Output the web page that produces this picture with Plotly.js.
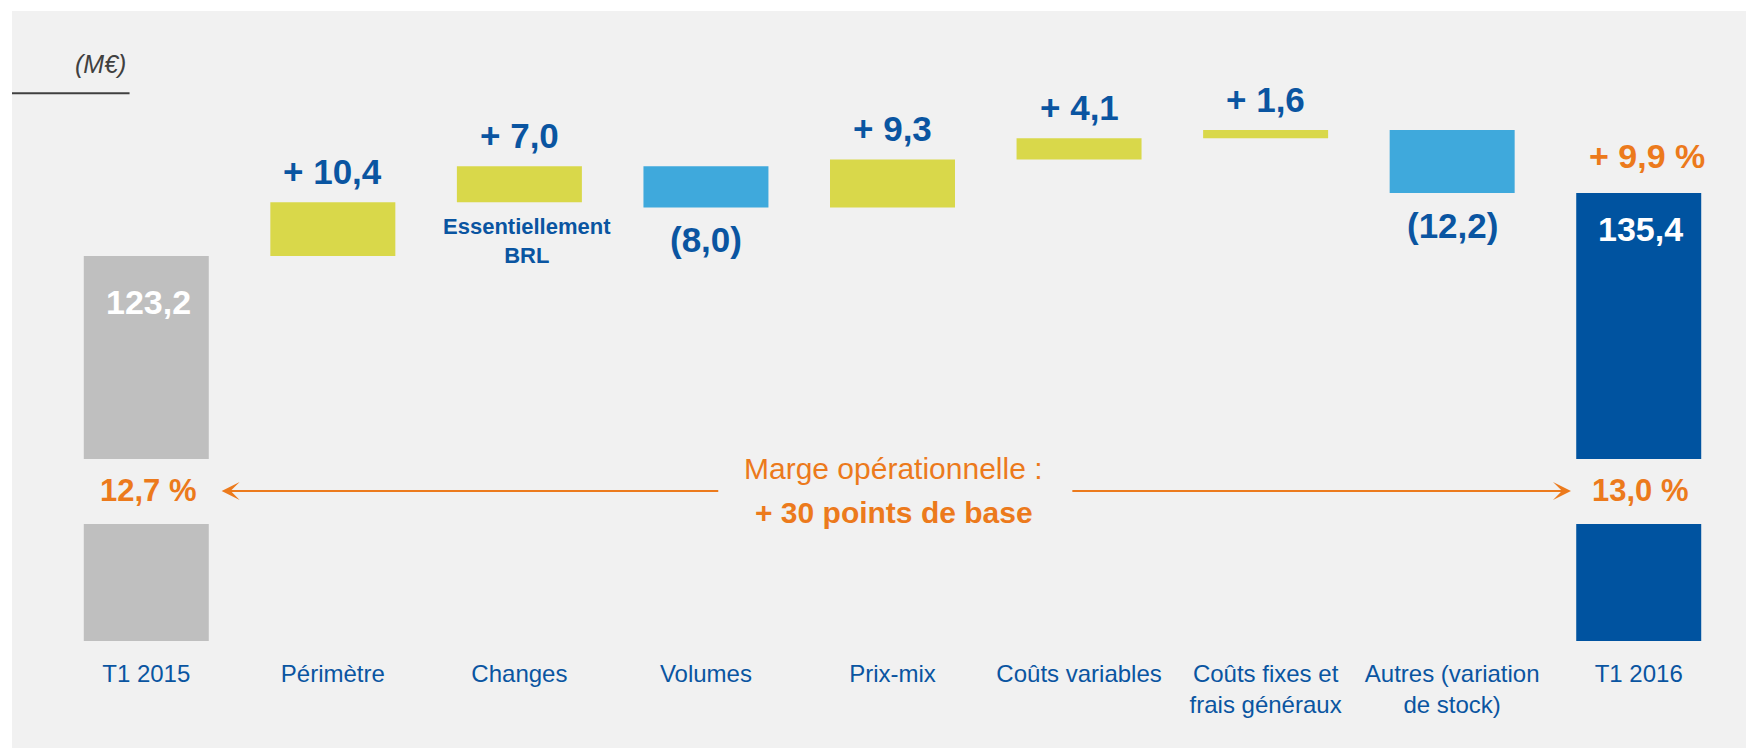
<!DOCTYPE html>
<html>
<head>
<meta charset="utf-8">
<script src="https://cdn.plot.ly/plotly-3.0.1.min.js"></script>
<style>
  html, body { margin: 0; padding: 0; background: #ffffff; }
  #chart { position: absolute; left: 12px; top: 11px; width: 1734px; height: 737px; }
</style>
</head>
<body>
<div id="chart"></div>
<script>
// ---- data ----
const categories = ['T1 2015', 'Périmètre', 'Changes', 'Volumes', 'Prix-mix', 'Coûts variables',
                    'Coûts fixes et<br>frais généraux', 'Autres (variation<br>de stock)', 'T1 2016'];
const values = [123.2, 10.4, 7.0, -8.0, 9.3, 4.1, 1.6, -12.2, 135.4];
const isTotal = [true, false, false, false, false, false, false, false, true];
const valueLabels = ['123,2', '+ 10,4', '+ 7,0', '(8,0)', '+ 9,3', '+ 4,1', '+ 1,6', '(12,2)', '135,4'];
const marginLabels = ['12,7 %', '13,0 %'];
const growthLabel = '+ 9,9 %';
const changesNote = 'Essentiellement<br>BRL';
const marginNote = ['Marge opérationnelle :', '+ 30 points de base'];
const unitLabel = '(M€)';

// ---- styles ----
const FONT = '"Liberation Sans", Arial, sans-serif';
const BLUE = '#0a55a1';
const ORANGE = '#ec7a1c';
const BG = '#f1f1f1';
const C_TOTAL0 = '#bfbfbf', C_UP = '#d9d84a', C_DOWN = '#3fa9dc', C_TOTAL1 = '#0053a0';

// waterfall geometry from values
const bases = [], heights = [], colors = [];
let run = 0;
values.forEach((v, i) => {
  if (isTotal[i]) {
    bases.push(0); heights.push(v); run = v;
    colors.push(i === 0 ? C_TOTAL0 : C_TOTAL1);
  } else {
    bases.push(run); heights.push(v); run += v;
    colors.push(v >= 0 ? C_UP : C_DOWN);
  }
});
const xs = categories.map((_, i) => i);

const yMin = 48.65, yMax = 166.96;
const breakLo = 71.3, breakHi = 83.9, midY = 77.7;

const annotations = [];
values.forEach((v, i) => {
  const top = bases[i] + Math.max(v, 0);
  const bottom = bases[i] + Math.min(v, 0);
  if (isTotal[i]) {
    annotations.push({x: i, y: top, yanchor: 'middle', yshift: i === 0 ? -46 : -36, xshift: 2,
      text: '<b>' + valueLabels[i] + '</b>',
      showarrow: false, font: {family: FONT, size: 34, color: '#ffffff'}});
  } else if (v >= 0) {
    annotations.push({x: i, y: top, yanchor: 'bottom', yshift: 9, text: '<b>' + valueLabels[i] + '</b>',
      showarrow: false, font: {family: FONT, size: 35, color: BLUE}});
  } else {
    annotations.push({x: i, y: bottom, yanchor: 'top', yshift: -11, text: '<b>' + valueLabels[i] + '</b>',
      showarrow: false, font: {family: FONT, size: 35, color: BLUE}});
  }
});
// growth label above final total
annotations.push({x: 8, y: values[8], yanchor: 'bottom', yshift: 16, xshift: 8, text: '<b>' + growthLabel + '</b>',
  showarrow: false, font: {family: FONT, size: 34, color: ORANGE}});
// margin labels in bar breaks
annotations.push({x: 0, y: midY, yanchor: 'middle', xshift: 2, text: '<b>' + marginLabels[0] + '</b>', showarrow: false,
  font: {family: FONT, size: 31, color: ORANGE}});
annotations.push({x: 8, y: midY, yanchor: 'middle', xshift: 2, text: '<b>' + marginLabels[1] + '</b>', showarrow: false,
  font: {family: FONT, size: 31, color: ORANGE}});
// central margin note (two lines)
annotations.push({x: 4.007, y: midY, yanchor: 'middle', yshift: 22, text: marginNote[0],
  showarrow: false, font: {family: FONT, size: 30, color: ORANGE}});
annotations.push({x: 4.007, y: midY, yanchor: 'middle', yshift: -22, text: '<b>' + marginNote[1] + '</b>',
  showarrow: false, font: {family: FONT, size: 30, color: ORANGE}});
// arrows
annotations.push({x: 0.404, y: midY, ax: 3.074, ay: midY, axref: 'x', ayref: 'y', text: '', showarrow: true,
  arrowhead: 3, arrowsize: 1.5, arrowwidth: 2, arrowcolor: ORANGE});
annotations.push({x: 7.637, y: midY, ax: 4.956, ay: midY, axref: 'x', ayref: 'y', text: '', showarrow: true,
  arrowhead: 3, arrowsize: 1.5, arrowwidth: 2, arrowcolor: ORANGE});
// note under Changes
annotations.push({x: 2, y: bases[2], yanchor: 'top', xshift: 8, yshift: -10, text: '<b>' + changesNote + '</b>',
  showarrow: false, font: {family: FONT, size: 22, color: BLUE}});
// unit label
annotations.push({xref: 'paper', yref: 'paper', x: 0.0444, y: 0.938, xanchor: 'right', yanchor: 'middle', yshift: 4,
  text: '<i>' + unitLabel + '</i>', showarrow: false, font: {family: FONT, size: 25, color: '#404040'}});

const trace = {
  type: 'bar', x: xs, y: heights, base: bases,
  marker: {color: colors, line: {width: 0}},
  width: 0.67, hoverinfo: 'skip', showlegend: false
};

const layout = {
  width: 1734, height: 737,
  margin: {l: 41, r: 14, t: 19, b: 107},
  paper_bgcolor: BG, plot_bgcolor: BG,
  showlegend: false,
  xaxis: {
    range: [-0.5, 8.5], tickvals: xs, ticktext: categories, tickangle: 0,
    showgrid: false, zeroline: false, showline: false, ticks: '',
    ticklabelstandoff: 16,
    tickfont: {family: FONT, size: 24, color: BLUE}, fixedrange: true
  },
  yaxis: {range: [yMin, yMax], visible: false, fixedrange: true},
  shapes: [
    {type: 'rect', xref: 'paper', yref: 'y', x0: 0, x1: 1, y0: breakLo, y1: breakHi,
     fillcolor: BG, line: {width: 0}, layer: 'above'},
    {type: 'line', xref: 'paper', yref: 'paper', x0: -0.0247, x1: 0.0456, y0: 0.8964, y1: 0.8964,
     line: {color: '#404040', width: 2}}
  ],
  annotations: annotations,
  hovermode: false
};

Plotly.newPlot('chart', [trace], layout, {displayModeBar: false, staticPlot: true});
</script>
</body>
</html>
